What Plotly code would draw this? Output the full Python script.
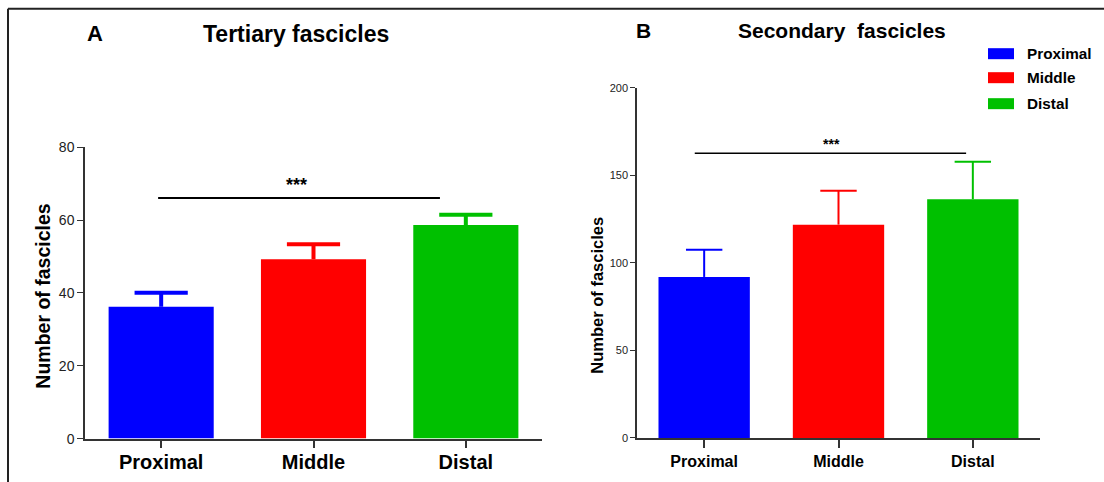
import plotly.graph_objects as go

# ---- data ----
categories = ["Proximal", "Middle", "Distal"]
colors = ["#0000ff", "#ff0000", "#00c000"]

tertiary_mean = [36.2, 49.3, 58.7]
tertiary_sem = [3.9, 4.1, 2.8]

secondary_mean = [92.0, 121.9, 136.4]
secondary_sem = [15.6, 19.4, 21.5]

# significance bracket: [x_start, x_end, y] in data units, star label position
sig_tertiary = [-0.02, 1.83, 66.1]
sig_tertiary_star = [0.89, 66.4]
sig_secondary = [-0.07, 1.95, 162.7]
sig_secondary_star = [0.95, 162.3]

y_ticks_tertiary = [0, 20, 40, 60, 80]
y_ticks_secondary = [0, 50, 100, 150, 200]

W, H = 1104, 482
# empirical vertical correction of the capture (observed: y_shot ~= 0.967*y_page + 7.3)
VS, VO = 0.967, 7.3


def px(x):
    return x / W


def py(y):
    return 1 - ((y - VO) / VS) / H


FONT = "Liberation Sans, Arial, sans-serif"

fig = go.Figure()


def add_panel(means, sems, xa, ya, bar_w, thick, cap_size):
    for i, cat in enumerate(categories):
        fig.add_trace(go.Bar(
            x=[cat], y=[means[i]], width=bar_w,
            marker=dict(color=colors[i], line=dict(width=0)),
            error_y=dict(type="data", array=[sems[i]], arrayminus=[0],
                         symmetric=False, color=colors[i], thickness=thick, width=0),
            xaxis=xa, yaxis=ya, showlegend=False, name=cat,
        ))
        # error-bar cap
        fig.add_trace(go.Scatter(
            x=[cat], y=[means[i] + sems[i]], mode="markers",
            marker=dict(symbol="line-ew", size=cap_size, color=colors[i],
                        line=dict(color=colors[i], width=thick)),
            xaxis=xa, yaxis=ya, showlegend=False, hoverinfo="skip",
        ))


add_panel(tertiary_mean, tertiary_sem, "x", "y", 0.69, 4, 38)
add_panel(secondary_mean, secondary_sem, "x2", "y2", 0.68, 2, 26)

axis_common = dict(showline=True, linecolor="#333", linewidth=1.5, ticks="outside",
                   tickcolor="#333", showgrid=False, zeroline=False)

fig.update_layout(
    width=W, height=H,
    margin=dict(l=0, r=0, t=0, b=0),
    paper_bgcolor="white", plot_bgcolor="white",
    barmode="overlay",
    font=dict(family=FONT, color="black"),
    xaxis=dict(domain=[px(85), px(542)], anchor="y", type="category",
               categoryorder="array", categoryarray=categories, range=[-0.5, 2.5],
               ticklen=8, tickwidth=1.5, ticklabelstandoff=-3,
               tickfont=dict(size=20, weight="bold", color="black"), **axis_common),
    yaxis=dict(domain=[py(438), py(146.7)], anchor="x", range=[0, 80],
               tickvals=y_ticks_tertiary, ticklen=6, tickwidth=1.2,
               tickfont=dict(size=14, color="#222"), **axis_common),
    xaxis2=dict(domain=[px(637), px(1040)], anchor="y2", type="category",
                categoryorder="array", categoryarray=categories, range=[-0.5, 2.5],
                ticklen=8, tickwidth=1.5,
                tickfont=dict(size=16, weight="bold", color="black"), **axis_common),
    yaxis2=dict(domain=[py(437.3), py(87.3)], anchor="x2", range=[0, 200],
                tickvals=y_ticks_secondary, ticklen=5, tickwidth=1.2,
                tickfont=dict(size=11, color="#222"), **axis_common),
)

shapes = []
# frame lines
shapes.append(dict(type="line", xref="paper", yref="paper", x0=px(8), x1=px(8),
                   y0=py(8), y1=py(500), line=dict(color="#222", width=2)))
shapes.append(dict(type="line", xref="paper", yref="paper", x0=px(8), x1=px(1110),
                   y0=py(8), y1=py(8), line=dict(color="#222", width=2)))
# significance lines
shapes.append(dict(type="line", xref="x", yref="y", x0=sig_tertiary[0], x1=sig_tertiary[1],
                   y0=sig_tertiary[2], y1=sig_tertiary[2], line=dict(color="black", width=2)))
shapes.append(dict(type="line", xref="x2", yref="y2", x0=sig_secondary[0], x1=sig_secondary[1],
                   y0=sig_secondary[2], y1=sig_secondary[2], line=dict(color="black", width=1.5)))

# manual legend
legend_rows_y = [53, 77, 103]
for i, cat in enumerate(categories):
    yc = legend_rows_y[i]
    shapes.append(dict(type="rect", xref="paper", yref="paper",
                       x0=px(988), x1=px(1014), y0=py(yc - 5.5), y1=py(yc + 5.5),
                       fillcolor=colors[i], line=dict(width=0)))
fig.update_layout(shapes=shapes)

ann = []
ann.append(dict(text="A", x=px(95), y=py(33), xref="paper", yref="paper",
                showarrow=False, xanchor="center", yanchor="middle",
                font=dict(size=22, weight="bold")))
ann.append(dict(text="Tertiary fascicles", x=px(296), y=py(33), xref="paper", yref="paper",
                showarrow=False, xanchor="center", yanchor="middle",
                font=dict(size=23, weight="bold")))
ann.append(dict(text="B", x=px(643), y=py(30), xref="paper", yref="paper",
                showarrow=False, xanchor="center", yanchor="middle",
                font=dict(size=21, weight="bold")))
ann.append(dict(text="Secondary\u00a0 fascicles", x=px(842), y=py(30), xref="paper", yref="paper",
                showarrow=False, xanchor="center", yanchor="middle",
                font=dict(size=21, weight="bold")))
ann.append(dict(text="Number of fascicles", x=px(43), y=py(296), xref="paper", yref="paper",
                showarrow=False, xanchor="center", yanchor="middle", textangle=-90,
                font=dict(size=19.5, weight="bold")))
ann.append(dict(text="Number of fascicles", x=px(597), y=py(295), xref="paper", yref="paper",
                showarrow=False, xanchor="center", yanchor="middle", textangle=-90,
                font=dict(size=16.5, weight="bold")))
ann.append(dict(text="***", x=sig_tertiary_star[0], y=sig_tertiary_star[1], xref="x", yref="y",
                showarrow=False, xanchor="center", yanchor="bottom",
                font=dict(size=18, weight="bold")))
ann.append(dict(text="***", x=sig_secondary_star[0], y=sig_secondary_star[1], xref="x2", yref="y2",
                showarrow=False, xanchor="center", yanchor="bottom",
                font=dict(size=14, weight="bold")))
for i, cat in enumerate(categories):
    ann.append(dict(text=cat, x=px(1025), y=py(legend_rows_y[i]), xref="paper", yref="paper",
                    showarrow=False, xanchor="left", yanchor="middle",
                    font=dict(size=15.3, weight="bold")))
fig.update_layout(annotations=ann)

fig.write_html(
    "out.html",
    config={"displayModeBar": False},
    post_script="document.body.style.margin='0';document.body.style.overflow='hidden';",
)
